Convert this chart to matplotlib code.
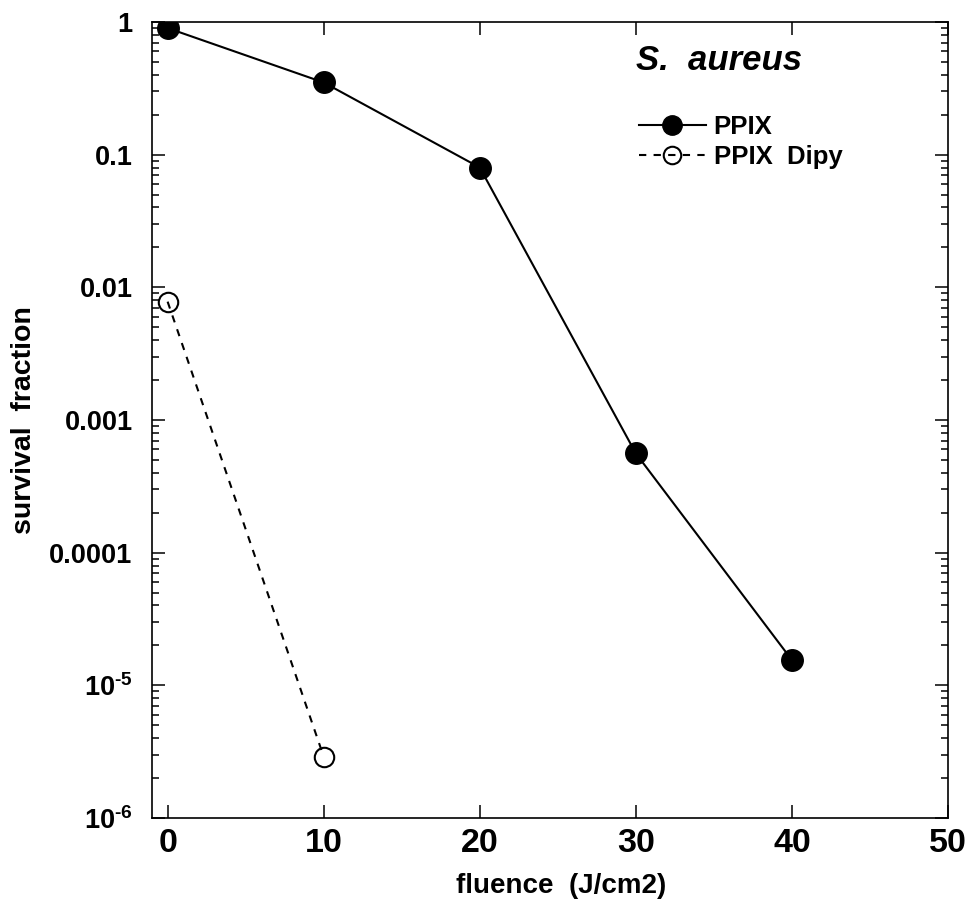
import matplotlib
matplotlib.use("Agg")
import matplotlib.pyplot as plt
from matplotlib.ticker import FixedLocator, FixedFormatter, LogLocator, NullFormatter, NullLocator

plt.rcParams['font.family'] = ['Liberation Sans', 'DejaVu Sans']
plt.rcParams['font.weight'] = 'bold'
plt.rcParams['mathtext.fontset'] = 'custom'
plt.rcParams['mathtext.rm'] = 'Liberation Sans:bold'
plt.rcParams['mathtext.bf'] = 'Liberation Sans:bold'
plt.rcParams['mathtext.it'] = 'Liberation Sans:bold:italic'
plt.rcParams['mathtext.default'] = 'bf'

# survival data
fluence_ppix = [0, 10, 20, 30, 40]
survival_ppix = [0.90, 0.35, 0.080, 5.6e-4, 1.55e-5]

fluence_dipy = [0, 10]
survival_dipy = [0.0078, 2.9e-6]

x_ticks = [0, 10, 20, 30, 40, 50]
y_ticks = [1e-6, 1e-5, 1e-4, 1e-3, 1e-2, 1e-1, 1]
y_tick_labels = [r'$10^{\text{-}6}$', r'$10^{\text{-}5}$', '0.0001', '0.001',
                 '0.01', '0.1', '1']

fig = plt.figure(figsize=(9.71, 9.17), dpi=100)
ax = fig.add_axes([152 / 971, 99 / 917, 796 / 971, 796 / 917])

ax.plot(fluence_ppix, survival_ppix, color='black', lw=1.5, marker='o',
        markersize=15.5, markerfacecolor='black', markeredgecolor='black',
        label='PPIX')
ax.plot(fluence_dipy, survival_dipy, color='black', lw=1.5, ls=(0, (3.5, 3.5)),
        marker='o', markersize=14, markerfacecolor='none',
        markeredgecolor='black', markeredgewidth=1.5, label='PPIX  Dipy')

ax.set_yscale('log')
ax.set_xlim(-1, 50)
ax.set_ylim(1e-6, 1)

ax.xaxis.set_major_locator(FixedLocator(x_ticks))
ax.xaxis.set_minor_locator(NullLocator())
ax.yaxis.set_major_locator(FixedLocator(y_ticks))
ax.yaxis.set_major_formatter(FixedFormatter(y_tick_labels))
ax.yaxis.set_minor_locator(LogLocator(base=10, subs=range(2, 10)))
ax.yaxis.set_minor_formatter(NullFormatter())

ax.tick_params(axis='both', which='both', direction='in', top=True, right=True)
ax.tick_params(axis='x', which='major', length=9.5, width=1.1, labelsize=24.5, pad=7)
ax.tick_params(axis='y', which='major', length=9.5, width=1.1, labelsize=19.5, pad=14)
ax.tick_params(axis='y', which='minor', length=5, width=1.1)
for lbl in ax.get_yticklabels():
    lbl.set_va('center_baseline')
for s in ax.spines.values():
    s.set_linewidth(1.2)

ax.set_xlabel('fluence  (J/cm2)', fontsize=20, fontweight='bold')
ax.xaxis.set_label_coords(0.514, -0.069)
ax.set_ylabel('survival  fraction', fontsize=20.5, fontweight='bold')
ax.yaxis.set_label_coords(-0.145, 0.5)

ax.text(0.608, 0.94, 'S.  aureus', transform=ax.transAxes, fontsize=25,
        fontweight='bold', fontstyle='italic', ha='left', va='baseline')

leg = ax.legend(loc='upper left', bbox_to_anchor=(0.6118, 0.883), frameon=False,
                fontsize=18.5, handlelength=2.6, handletextpad=0.3,
                labelspacing=0.22, borderpad=0, borderaxespad=0, markerscale=0.9)

fig.savefig('out.png', dpi=100)
